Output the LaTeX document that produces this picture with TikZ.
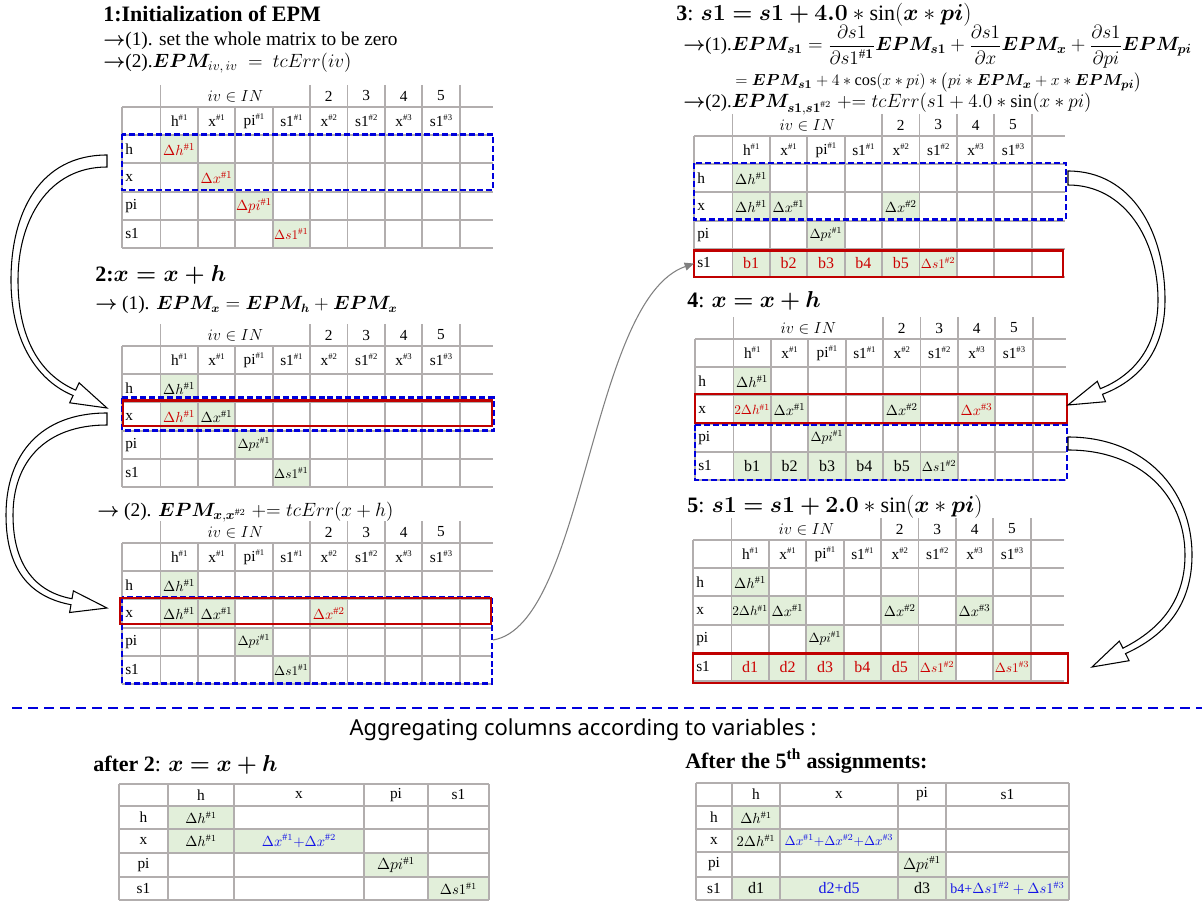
\documentclass[tikz,border=0pt]{standalone}
\usepackage{amsmath}
\usepackage{bm}
\usepackage{fontspec}
\setmainfont{Liberation Serif}
\newfontfamily\capfont{Noto Sans}
\usetikzlibrary{arrows.meta}

\definecolor{gridgray}{RGB}{178,174,174}
\definecolor{cellgreen}{RGB}{226,239,218}
\definecolor{framered}{RGB}{192,0,0}
\definecolor{frameblue}{RGB}{0,0,220}
\definecolor{txtred}{RGB}{204,0,0}
\definecolor{txtblue}{RGB}{20,20,230}
\definecolor{arrowgray}{RGB}{128,128,128}

\newcommand\fs[1]{\fontsize{#1}{#1}\selectfont}
\newcommand\sh[1]{\raisebox{0.85ex}{\fs{6.5}#1}}
\newcommand\arr{$\bm{\rightarrow}$}

\tikzset{
  gridline/.style={draw=gridgray, line width=1.4pt},
  bluebox/.style={draw=frameblue, line width=1.7pt, dash pattern=on 4.5pt off 2.2pt},
  redbox/.style={draw=framered, line width=2.2pt},
  celltxt/.style={inner sep=0pt, font=\fs{10.8}},
  smallcell/.style={font=\fs{9.6}},
  bigcell/.style={font=\fs{12}},
  lbl/.style={inner sep=0pt, anchor=west, font=\fs{11.5}},
  hdr/.style={inner sep=0pt, font=\fs{11.5}},
  textline/.style={inner sep=0pt, anchor=base west, font=\fs{14.5}},
  mathline/.style={inner sep=0pt, anchor=base west, font=\fs{14}},
  steptitle/.style={inner sep=0pt, anchor=base west, font=\fs{16.5}\bfseries},
  blockarrow/.style={draw=black, line width=0.8pt, fill=white, line join=miter},
  grayarrow/.style={draw=arrowgray, line width=0.8pt, -{Triangle[length=7pt,width=6pt]}},
  btxt/.style={inner sep=0pt, font=\fs{11.5}},
  bmath/.style={inner sep=0pt, font=\fs{10.5}},
}

% green cell background: column, row (row 0 = column header row)
\newcommand\gfill[2]{\fill[cellgreen] ({38.5+(#1-1)*37.4},{#2*28.2}) rectangle ({38.5+#1*37.4},{(#2+1)*28.2});}
% cell text: [style] column, row, content
\newcommand\ctxt[4][]{\node[celltxt,#1] (c#2r#3) at ({38.5+(#2-0.5)*37.4},{(#3+0.5)*28.2}) {#4};}

% grid, headers and row labels of an error propagation matrix
\newcommand\epmgrid{%
  \foreach \cc in {1,5,6,7,8,9}
    \draw[gridline] ({38.5+(\cc-1)*37.4},-22) -- ({38.5+(\cc-1)*37.4},0);
  \foreach \rr in {0,...,5}
    \draw[gridline] (0,{\rr*28.2}) -- (371,{\rr*28.2});
  \draw[gridline] (0,0) -- (0,141);
  \foreach \cc in {1,...,9}
    \draw[gridline] ({38.5+(\cc-1)*37.4},0) -- ({38.5+(\cc-1)*37.4},141);
  \node[hdr] (iv) at ({38.5+2*37.4},-11) {$iv \in IN$};
  \node[hdr] (n2) at ({38.5+4.5*37.4},-11) {2};
  \node[hdr] (n3) at ({38.5+5.5*37.4},-11) {3};
  \node[hdr] (n4) at ({38.5+6.5*37.4},-11) {4};
  \node[hdr] (n5) at ({38.5+7.5*37.4},-11) {5};
  \ctxt[hdr]{1}{0}{h\sh{\#1}}
  \ctxt[hdr]{2}{0}{x\sh{\#1}}
  \ctxt[hdr]{3}{0}{pi\sh{\#1}}
  \ctxt[hdr]{4}{0}{s1\sh{\#1}}
  \ctxt[hdr]{5}{0}{x\sh{\#2}}
  \ctxt[hdr]{6}{0}{s1\sh{\#2}}
  \ctxt[hdr]{7}{0}{x\sh{\#3}}
  \ctxt[hdr]{8}{0}{s1\sh{\#3}}
  \node[lbl] (rh) at (3,{1.5*28.2}) {h};
  \node[lbl] (rx) at (3,{2.5*28.2}) {x};
  \node[lbl] (rpi) at (3,{3.5*28.2}) {pi};
  \node[lbl] (rs) at (3,{4.5*28.2}) {s1};
}

\begin{document}
\begin{tikzpicture}[x=0.75pt,y=-0.75pt]
\useasboundingbox (0,0) rectangle (1202,905);

% ---------------- step 1 ----------------
\node[steptitle] (s1title) at (103,22) {1:Initialization of EPM};
\node[textline] (s1a) at (103,46) {\arr(1). set the whole matrix to be zero};
\node[textline] (s1b) at (103,68) {\arr(2).$\bm{EPM}_{iv,\,iv}\ =\ tcErr(iv)$};
\begin{scope}[shift={(122,107)}, name prefix=t1-]
  \gfill{1}{1}\gfill{2}{2}\gfill{3}{3}\gfill{4}{4}
  \epmgrid
  \ctxt[text=txtred]{1}{1}{$\Delta h^{\#1}$}
  \ctxt[text=txtred]{2}{2}{$\Delta x^{\#1}$}
  \ctxt[text=txtred]{3}{3}{$\Delta pi^{\#1}$}
  \ctxt[text=txtred,smallcell]{4}{4}{$\Delta s1^{\#1}$}
  \draw[bluebox] (0,27.5) rectangle (371,83);
\end{scope}

% ---------------- step 2 ----------------
\node[steptitle] (s2title) at (95,282) {2:{\boldmath$x=x+h$}};
\node[textline] (s2a) at (95,310) {\arr\ (1). {\fs{13.5}$\bm{EPM}_{\bm{x}} = \bm{EPM}_{\bm{h}} + \bm{EPM}_{\bm{x}}$}};
\begin{scope}[shift={(122,346)}, name prefix=t2-]
  \gfill{1}{1}\gfill{1}{2}\gfill{2}{2}\gfill{3}{3}\gfill{4}{4}
  \epmgrid
  \ctxt{1}{1}{$\Delta h^{\#1}$}
  \ctxt[text=txtred]{1}{2}{$\Delta h^{\#1}$}
  \ctxt{2}{2}{$\Delta x^{\#1}$}
  \ctxt[smallcell]{3}{3}{$\Delta pi^{\#1}$}
  \ctxt[smallcell]{4}{4}{$\Delta s1^{\#1}$}
  \draw[bluebox] (0,51.5) rectangle (372,84.5);
  \draw[redbox] (1,54.5) rectangle (370,80);
\end{scope}

\node[textline] (s2b) at (97,516) {\arr\ (2). $\bm{EPM}_{\bm{x},\bm{x}^{\#2}} \mathrel{+}= tcErr(x + h)$};
\begin{scope}[shift={(122,543)}, name prefix=t2b-]
  \gfill{1}{1}\gfill{1}{2}\gfill{2}{2}\gfill{5}{2}\gfill{3}{3}\gfill{4}{4}
  \epmgrid
  \ctxt{1}{1}{$\Delta h^{\#1}$}
  \ctxt{1}{2}{$\Delta h^{\#1}$}
  \ctxt{2}{2}{$\Delta x^{\#1}$}
  \ctxt[text=txtred]{5}{2}{$\Delta x^{\#2}$}
  \ctxt[smallcell]{3}{3}{$\Delta pi^{\#1}$}
  \ctxt[smallcell]{4}{4}{$\Delta s1^{\#1}$}
  \draw[bluebox] (0,54) rectangle (370,140.5);
  \draw[redbox] (-2,55) rectangle (369,81);
  \coordinate (out) at (371,97);
\end{scope}

% ---------------- step 3 ----------------
\node[steptitle] (s3title) at (676,21) {3{\mdseries:} $\bm{s1 = s1 + 4.0} \ast \sin(\bm{x} \ast \bm{pi})$};
\node[mathline] (s3a) at (683,51) {\arr(1).$\bm{EPM}_{\bm{s1}} = \dfrac{\partial s1}{\partial s1^{\bm{\#1}}}\bm{EPM}_{\bm{s1}} + \dfrac{\partial s1}{\partial x}\bm{EPM}_{\bm{x}} + \dfrac{\partial s1}{\partial pi}\bm{EPM}_{\bm{pi}}$};
\node[mathline, font=\fs{12.2}] (s3b) at (735,86) {$= \bm{EPM}_{\bm{s1}} + 4 \ast \cos(x \ast pi) \ast \bigl(pi \ast \bm{EPM}_{\bm{x}} + x \ast \bm{EPM}_{\bm{pi}}\bigr)$};
\node[mathline] (s3c) at (683,108) {\arr(2).$\bm{EPM}_{\bm{s1},\bm{s1}^{\#2}} \mathrel{+}= tcErr(s1 + 4.0 \ast \sin(x \ast pi)$};
\begin{scope}[shift={(694,136)}, name prefix=t3-]
  \gfill{1}{1}\gfill{1}{2}\gfill{2}{2}\gfill{5}{2}\gfill{3}{3}
  \foreach \k in {1,...,6} {\gfill{\k}{4}}
  \epmgrid
  \ctxt{1}{1}{$\Delta h^{\#1}$}
  \ctxt{1}{2}{$\Delta h^{\#1}$}
  \ctxt{2}{2}{$\Delta x^{\#1}$}
  \ctxt{5}{2}{$\Delta x^{\#2}$}
  \ctxt[smallcell]{3}{3}{$\Delta pi^{\#1}$}
  \ctxt[bigcell,text=txtred]{1}{4}{b1}
  \ctxt[bigcell,text=txtred]{2}{4}{b2}
  \ctxt[bigcell,text=txtred]{3}{4}{b3}
  \ctxt[bigcell,text=txtred]{4}{4}{b4}
  \ctxt[bigcell,text=txtred]{5}{4}{b5}
  \ctxt[smallcell,text=txtred]{6}{4}{$\Delta s1^{\#2}$}
  \draw[bluebox] (0,27) rectangle (372,83.5);
  \draw[redbox] (0,114.5) rectangle (369,141);
  \coordinate (in) at (0,127.5);
\end{scope}

% ---------------- step 4 ----------------
\node[steptitle] (s4title) at (687,308) {4{\mdseries:} $\bm{x = x + h}$};
\begin{scope}[shift={(695,339)}, name prefix=t4-]
  \gfill{1}{1}\gfill{1}{2}\gfill{2}{2}\gfill{5}{2}\gfill{7}{2}\gfill{3}{3}
  \foreach \k in {1,...,6} {\gfill{\k}{4}}
  \epmgrid
  \ctxt{1}{1}{$\Delta h^{\#1}$}
  \ctxt[smallcell,text=txtred]{1}{2}{$2\Delta h^{\#1}$}
  \ctxt{2}{2}{$\Delta x^{\#1}$}
  \ctxt{5}{2}{$\Delta x^{\#2}$}
  \ctxt[text=txtred]{7}{2}{$\Delta x^{\#3}$}
  \ctxt[smallcell]{3}{3}{$\Delta pi^{\#1}$}
  \ctxt[bigcell]{1}{4}{b1}
  \ctxt[bigcell]{2}{4}{b2}
  \ctxt[bigcell]{3}{4}{b3}
  \ctxt[bigcell]{4}{4}{b4}
  \ctxt[bigcell]{5}{4}{b5}
  \ctxt[smallcell]{6}{4}{$\Delta s1^{\#2}$}
  \draw[bluebox] (0,85.5) rectangle (372,141);
  \draw[redbox] (0,55) rectangle (372,84);
\end{scope}

% ---------------- step 5 ----------------
\node[steptitle] (s5title) at (687,512) {5{\mdseries:} $\bm{s1 = s1 + 2.0} \ast \sin(\bm{x} \ast \bm{pi})$};
\begin{scope}[shift={(693,540)}, name prefix=t5-]
  \gfill{1}{1}\gfill{1}{2}\gfill{2}{2}\gfill{5}{2}\gfill{7}{2}\gfill{3}{3}
  \foreach \k in {1,...,6} {\gfill{\k}{4}}
  \gfill{8}{4}
  \epmgrid
  \ctxt{1}{1}{$\Delta h^{\#1}$}
  \ctxt[smallcell]{1}{2}{$2\Delta h^{\#1}$}
  \ctxt{2}{2}{$\Delta x^{\#1}$}
  \ctxt{5}{2}{$\Delta x^{\#2}$}
  \ctxt{7}{2}{$\Delta x^{\#3}$}
  \ctxt[smallcell]{3}{3}{$\Delta pi^{\#1}$}
  \ctxt[bigcell,text=txtred]{1}{4}{d1}
  \ctxt[bigcell,text=txtred]{2}{4}{d2}
  \ctxt[bigcell,text=txtred]{3}{4}{d3}
  \ctxt[bigcell,text=txtred]{4}{4}{b4}
  \ctxt[bigcell,text=txtred]{5}{4}{d5}
  \ctxt[smallcell,text=txtred]{6}{4}{$\Delta s1^{\#2}$}
  \ctxt[smallcell,text=txtred]{8}{4}{$\Delta s1^{\#3}$}
  \draw[redbox] (0,113.5) rectangle (375,143);
\end{scope}

% ---------------- hollow curved arrows between steps ----------------
\draw[blockarrow] (107,155) .. controls (40,155) and (11,212) .. (11,280)
  .. controls (11,345) and (40,382) .. (73.1,395.5)
  -- (69.7,402.8) -- (107,408) -- (79.1,382.8) -- (75.7,390.1)
  .. controls (45,377) and (18,345) .. (18,280)
  .. controls (18,220) and (48,167) .. (107,167) -- cycle;
\draw[blockarrow] (107,413) .. controls (40,413) and (6,455) .. (6,515)
  .. controls (6,575) and (35,598) .. (71.0,604.7)
  -- (69.6,612.5) -- (107,608) -- (73.4,590.9) -- (72.0,598.7)
  .. controls (40,593) and (13,570) .. (13,515)
  .. controls (13,462) and (45,425) .. (107,425) -- cycle;
\draw[blockarrow] (1068,171) .. controls (1132,171) and (1165,232) .. (1165,300)
  .. controls (1165,355) and (1135,382) .. (1102.5,394.3)
  -- (1105.5,401.7) -- (1068,405) -- (1097.3,381.3) -- (1100.3,388.7)
  .. controls (1130,377) and (1158,350) .. (1158,300)
  .. controls (1158,240) and (1125,185) .. (1068,185) -- cycle;
\draw[blockarrow] (1068,437) .. controls (1145,437) and (1192,490) .. (1192,555)
  .. controls (1192,610) and (1160,638) .. (1125.5,653.6)
  -- (1129.1,660.7) -- (1092,667) -- (1119.3,641.1) -- (1122.9,648.2)
  .. controls (1155,632) and (1185,605) .. (1185,555)
  .. controls (1185,495) and (1140,450) .. (1068,450) -- cycle;

% thin connector from step 2 to step 3
\draw[grayarrow] (t2b-out) .. controls +(92,-15) and +(-104,36) .. (t3-in);

% ---------------- aggregated view ----------------
\draw[frameblue, line width=1.7pt, dash pattern=on 7.5pt off 4.5pt] (12,708) -- (1202,708);
\node[inner sep=0pt, anchor=base] (agg) at (583,735) {\capfont\fs{16.5}Aggregating columns according to variables :};

\node[steptitle] (a2title) at (93,771) {after 2{\mdseries:} $\bm{x = x + h}$};
\foreach \xa/\ya/\xb/\yb in {168/806/234/829, 168/829/234/853, 234/829/364/853, 364/853/428/877, 428/877/489/900}
  \fill[cellgreen] (\xa,\ya) rectangle (\xb,\yb);
\foreach \xa in {119,168,234,364,428,489} \draw[gridline] (\xa,784) -- (\xa,900);
\foreach \ya in {784,806,829,853,877,900} \draw[gridline] (119,\ya) -- (489,\ya);
\node[btxt] (ah) at (201,795) {h};
\node[btxt] (ax) at (299,795) {x};
\node[btxt] (api) at (396,795) {pi};
\node[btxt] (as) at (458.5,795) {s1};
\node[btxt] (arh) at (143.5,817.5) {h};
\node[btxt] (arx) at (143.5,841) {x};
\node[btxt] (arpi) at (143.5,865) {pi};
\node[btxt] (ars) at (143.5,888.5) {s1};
\node[bmath] (ahh) at (201,817.5) {$\Delta h^{\#1}$};
\node[bmath] (axh) at (201,841) {$\Delta h^{\#1}$};
\node[bmath, text=txtblue] (axx) at (299,841) {$\Delta x^{\#1}{+}\Delta x^{\#2}$};
\node[bmath, font=\fs{12}] (apipi) at (396,865) {$\Delta pi^{\#1}$};
\node[bmath] (ass) at (458.5,888.5) {$\Delta s1^{\#1}$};

\node[steptitle] (a5title) at (685,768) {After the 5\textsuperscript{th} assignments:};
\foreach \xa/\ya/\xb/\yb in {732/806/780/829, 732/829/780/852, 780/829/898/852, 898/852/946/877,
    732/877/780/900, 780/877/898/900, 898/877/946/900, 946/877/1069/900}
  \fill[cellgreen] (\xa,\ya) rectangle (\xb,\yb);
\foreach \xa in {696,732,780,898,946,1069} \draw[gridline] (\xa,783) -- (\xa,900);
\foreach \ya in {783,806,829,852,877,900} \draw[gridline] (696,\ya) -- (1069,\ya);
\node[btxt] (bh) at (756,794.5) {h};
\node[btxt] (bx) at (839,794.5) {x};
\node[btxt] (bpi) at (922,794.5) {pi};
\node[btxt] (bs) at (1007.5,794.5) {s1};
\node[btxt] (brh) at (714,817.5) {h};
\node[btxt] (brx) at (714,840.5) {x};
\node[btxt] (brpi) at (714,864.5) {pi};
\node[btxt] (brs) at (714,888.5) {s1};
\node[bmath] (bhh) at (756,817.5) {$\Delta h^{\#1}$};
\node[bmath] (bxh) at (756,840.5) {$2\Delta h^{\#1}$};
\node[bmath, font=\fs{9.8}, text=txtblue] (bxx) at (839,840.5) {$\Delta x^{\#1}{+}\Delta x^{\#2}{+}\Delta x^{\#3}$};
\node[bmath, font=\fs{12}] (bpipi) at (922,864.5) {$\Delta pi^{\#1}$};
\node[btxt, font=\fs{12}] (bsh) at (756,888.5) {d1};
\node[btxt, font=\fs{12}, text=txtblue] (bsx) at (839,888.5) {d2+d5};
\node[btxt, font=\fs{12}] (bspi) at (922,888.5) {d3};
\node[bmath, text=txtblue] (bss) at (1007.5,888.5) {b4+$\Delta s1^{\#2} + \Delta s1^{\#3}$};
\end{tikzpicture}
\end{document}
